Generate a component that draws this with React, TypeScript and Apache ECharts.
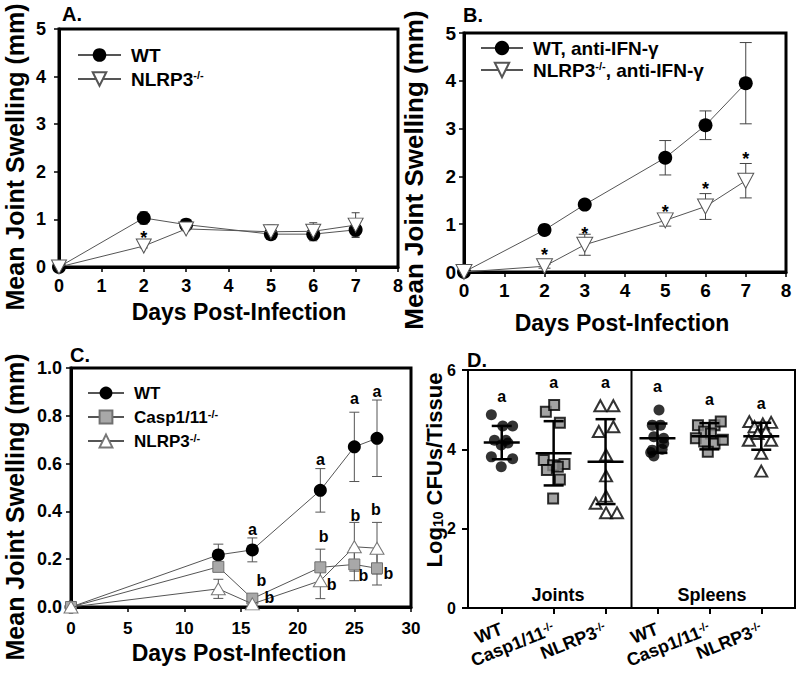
import React, { useEffect, useRef } from 'react';
import * as echarts from 'echarts';

const FONT = '"Liberation Sans", Arial, Helvetica, sans-serif';

// ---------- Panel A ----------
const daysAB = [0, 2, 3, 5, 6, 7];
const aWT = [0, 1.03, 0.89, 0.69, 0.69, 0.78];
const aWTsd = [0, 0.13, 0.04, 0.09, 0.14, 0.13];
const aNL = [0, 0.44, 0.8, 0.74, 0.75, 0.88];
const aNLsd = [0, 0.04, 0.04, 0.14, 0.18, 0.26];
const aStarX = [2];
const aStarY = [0.72];

// ---------- Panel B ----------
const bWT = [0, 0.88, 1.41, 2.39, 3.07, 3.95];
const bWTsd = [0, 0.04, 0.04, 0.36, 0.3, 0.85];
const bNL = [0, 0.12, 0.57, 1.08, 1.37, 1.91];
const bNLsd = [0, 0.04, 0.22, 0.12, 0.27, 0.36];
const bStarX = [2, 3, 5, 6, 7];
const bStarY = [0.45, 0.91, 1.36, 1.84, 2.47];

// ---------- Panel C ----------
const daysC = [0, 13, 16, 22, 25, 27];
const cWT = [0, 0.218, 0.239, 0.488, 0.67, 0.706];
const cWTsd = [0, 0.045, 0.05, 0.091, 0.145, 0.16];
const cCasp = [0, 0.168, 0.035, 0.166, 0.178, 0.162];
const cCaspSd = [0, 0.01, 0.01, 0.076, 0.068, 0.07];
const cNL = [0, 0.076, 0.013, 0.11, 0.252, 0.246];
const cNLsd = [0, 0.04, 0.01, 0.075, 0.102, 0.108];
const cLetterX = [16, 22, 25, 27, 16.8, 17.5, 22.3, 23.0, 25.1, 25.8, 26.9, 28.0];
const cLetterY = [0.326, 0.617, 0.871, 0.9, 0.109, 0.039, 0.295, 0.095, 0.382, 0.13, 0.407, 0.141];
const cLetters = ['a', 'a', 'a', 'a', 'b', 'b', 'b', 'b', 'b', 'b', 'b', 'b'];

// ---------- Panel D ----------
const dCategories = ['WT', 'Casp1/11', 'NLRP3', 'WT', 'Casp1/11', 'NLRP3'];
const dCategorySup = ['', '-/-', '-/-', '', '-/-', '-/-'];
const dWTJointsY = [4.87, 4.59, 4.59, 4.23, 4.23, 4.11, 4.16, 3.81, 3.76, 3.56];
const dWTJointsJitter = [-0.2, 0.02, 0.21, -0.14, 0.08, -0.01, 0.12, -0.2, 0.21, -0.01];
const dCaspJointsY = [4.95, 5.12, 4.67, 3.73, 3.6, 3.63, 3.48, 3.24, 2.76, 3.56];
const dCaspJointsJitter = [-0.15, 0.01, 0.12, -0.19, -0.01, 0.21, -0.13, 0.12, -0.01, 0.08];
const dNLJointsY = [5.1, 5.1, 4.45, 4.57, 3.86, 3.33, 2.82, 2.64, 2.4, 2.4];
const dNLJointsJitter = [-0.1, 0.15, -0.13, 0.15, 0.01, 0.01, 0.01, -0.19, 0.01, 0.22];
const dWTSpleenY = [4.99, 4.61, 4.61, 4.32, 4.28, 4.15, 3.98, 4.0, 3.83, 3.92];
const dWTSpleenJitter = [0.03, -0.1, 0.06, -0.07, 0.12, 0.12, -0.1, 0.09, -0.07, -0.13];
const dCaspSpleenY = [4.61, 4.61, 4.7, 4.45, 4.4, 4.28, 4.2, 4.15, 4.24, 3.94];
const dCaspSpleenJitter = [-0.22, 0.1, 0.22, -0.1, 0.03, -0.26, -0.1, 0.1, 0.26, -0.03];
const dNLSpleenY = [4.7, 4.68, 4.57, 4.64, 4.4, 4.23, 4.23, 3.9, 3.45, 4.45];
const dNLSpleenJitter = [-0.23, 0.19, -0.13, 0.03, -0.07, -0.24, 0.19, 0, 0, 0.09];
const dMean = [4.17, 3.9, 3.69, 4.28, 4.33, 4.33];
const dSD = [0.42, 0.81, 1.07, 0.37, 0.33, 0.34];
const dLetterY = [5.32, 5.68, 5.68, 5.58, 5.26, 5.16];
const dDividerX = 2.5;

const legendLabels: Record<string, string> = {
  aWT: 'WT',
  aNL: 'NLRP3{sup|-/-}',
  bWT: 'WT, anti-IFN-γ',
  bNL: 'NLRP3{sup|-/-}, anti-IFN-γ',
  cWT: 'WT',
  cCasp: 'Casp1/11{sup|-/-}',
  cNL: 'NLRP3{sup|-/-}',
};

const pts = (xs: number[], ys: number[]) => xs.map((x, i) => [x, ys[i]]);

function errorSeries(xs: number[], ys: number[], sds: number[], idx: number, color: string, cap: number) {
  return {
    type: 'custom',
    xAxisIndex: idx,
    yAxisIndex: idx,
    z: 1,
    silent: true,
    data: xs.map((x, i) => [x, ys[i], sds[i]]),
    renderItem: (params: any, api: any) => {
      const x = api.value(0);
      const y = api.value(1);
      const e = api.value(2);
      if (!e) return { type: 'group', children: [] };
      const t = api.coord([x, y + e]);
      const b = api.coord([x, y - e]);
      const mk = (x1: number, y1: number, x2: number, y2: number) => ({
        type: 'line',
        shape: { x1, y1, x2, y2 },
        style: { stroke: color, lineWidth: 1 },
      });
      return {
        type: 'group',
        children: [
          mk(t[0], t[1], b[0], b[1]),
          mk(t[0] - cap, t[1], t[0] + cap, t[1]),
          mk(b[0] - cap, b[1], b[0] + cap, b[1]),
        ],
      };
    },
  };
}

function textSeries(xs: number[], ys: number[], labels: string[], idx: number, fontSize: number, dy: number) {
  return {
    type: 'custom',
    xAxisIndex: idx,
    yAxisIndex: idx,
    z: 10,
    silent: true,
    data: xs.map((x, i) => [x, ys[i]]),
    renderItem: (params: any, api: any) => {
      const p = api.coord([api.value(0), api.value(1)]);
      return {
        type: 'text',
        x: p[0],
        y: p[1] + dy,
        style: {
          text: labels[params.dataIndex],
          fill: '#000',
          fontSize,
          fontWeight: 'bold',
          fontFamily: FONT,
          align: 'center',
          verticalAlign: 'middle',
        },
      };
    },
  };
}

function meanSdSeries(idx: number) {
  return {
    type: 'custom',
    xAxisIndex: idx,
    yAxisIndex: idx,
    z: 12,
    silent: true,
    data: dMean.map((m, i) => [i, m, dSD[i]]),
    renderItem: (params: any, api: any) => {
      const x = api.value(0);
      const m = api.value(1);
      const s = api.value(2);
      const pm = api.coord([x, m]);
      const pt = api.coord([x, m + s]);
      const pb = api.coord([x, m - s]);
      const mk = (x1: number, y1: number, x2: number, y2: number) => ({
        type: 'line',
        shape: { x1, y1, x2, y2 },
        style: { stroke: '#000', lineWidth: 2.5 },
      });
      return {
        type: 'group',
        children: [
          mk(pm[0] - 18, pm[1], pm[0] + 18, pm[1]),
          mk(pt[0], pt[1], pb[0], pb[1]),
          mk(pt[0] - 10, pt[1], pt[0] + 10, pt[1]),
          mk(pb[0] - 10, pb[1], pb[0] + 10, pb[1]),
        ],
      };
    },
  };
}

const tickLabel = (size: number, margin: number) => ({
  fontSize: size,
  fontWeight: 'bold',
  fontFamily: FONT,
  color: '#000',
  margin,
});

const thickAxis = (width: number) => ({
  axisLine: { show: true, onZero: false, lineStyle: { color: '#000', width } },
  axisTick: { show: true, inside: false, length: 5, lineStyle: { color: '#000', width: 1.5 } },
  splitLine: { show: false },
});

const legendText = (size: number, lineHeight: number) => ({
  fontSize: size,
  fontWeight: 'bold',
  fontFamily: FONT,
  color: '#000',
  lineHeight,
  padding: [0, 0, 0, 5],
  rich: {
    sup: { fontSize: 11, fontWeight: 'bold', fontFamily: FONT, color: '#000', verticalAlign: 'top', lineHeight: 11 },
  },
});

function titleText(text: string, x: number, y: number, size: number, rotate = false, extra: any = {}) {
  return {
    type: 'text',
    x,
    y,
    rotation: rotate ? Math.PI / 2 : 0,
    style: {
      text,
      fill: '#000',
      fontSize: size,
      fontWeight: 'bold',
      fontFamily: FONT,
      align: 'center',
      verticalAlign: 'middle',
      ...extra,
    },
  };
}

export default function App() {
  const ref = useRef<HTMLDivElement>(null);

  useEffect(() => {
    document.body.style.margin = '0';
    if (!ref.current) return;
    const chart = echarts.init(ref.current, undefined, { renderer: 'svg' });

    const lineGrey = { color: '#555', width: 1 };
    const circle = (size: number) => ({
      symbol: 'circle',
      symbolSize: size,
      itemStyle: { color: '#000', borderColor: '#000', borderWidth: 0 },
    });
    const triDown = {
      symbol: 'triangle',
      symbolRotate: 180,
      symbolSize: [15, 14],
      itemStyle: { color: '#fff', borderColor: '#555', borderWidth: 1 },
    };

    const option: any = {
      animation: false,
      grid: [
        { left: 59, top: 29, width: 339, height: 238, show: true, borderColor: '#000', borderWidth: 3 },
        { left: 464, top: 33, width: 322, height: 239, show: true, borderColor: '#000', borderWidth: 3 },
        { left: 71, top: 368, width: 340, height: 239, show: true, borderColor: '#000', borderWidth: 3 },
        { left: 468, top: 370, width: 327, height: 238, show: true, borderColor: '#000', borderWidth: 2 },
      ],
      xAxis: [
        { gridIndex: 0, type: 'value', min: 0, max: 8, interval: 1, ...thickAxis(3), axisLabel: tickLabel(18, 10) },
        { gridIndex: 1, type: 'value', min: 0, max: 8, interval: 1, ...thickAxis(3), axisLabel: tickLabel(19, 9) },
        { gridIndex: 2, type: 'value', min: 0, max: 30, interval: 5, ...thickAxis(3), axisLabel: tickLabel(17, 13) },
        {
          gridIndex: 3,
          type: 'value',
          min: -0.65,
          max: 5.65,
          axisLine: { show: true, onZero: false, lineStyle: { color: '#000', width: 2 } },
          axisTick: { show: true, length: 6, customValues: [0, 1, 2, 3, 4, 5], lineStyle: { color: '#000', width: 2 } },
          splitLine: { show: false },
          axisLabel: {
            customValues: [0, 1, 2, 3, 4, 5],
            rotate: 22,
            margin: 20,
            fontSize: 18,
            fontWeight: 'bold',
            fontFamily: FONT,
            color: '#000',
            formatter: (v: number) => {
              const i = Math.round(v);
              return dCategorySup[i] ? `${dCategories[i]}{sup|${dCategorySup[i]}}` : dCategories[i];
            },
            rich: {
              sup: { fontSize: 11, fontWeight: 'bold', fontFamily: FONT, color: '#000', verticalAlign: 'top' },
            },
          },
        },
      ],
      yAxis: [
        { gridIndex: 0, type: 'value', min: 0, max: 5, interval: 1, ...thickAxis(3), axisLabel: tickLabel(18, 13) },
        { gridIndex: 1, type: 'value', min: 0, max: 5, interval: 1, ...thickAxis(3), axisLabel: tickLabel(19, 8) },
        {
          gridIndex: 2,
          type: 'value',
          min: 0,
          max: 1,
          interval: 0.2,
          ...thickAxis(3),
          axisLabel: { ...tickLabel(18, 9), formatter: (v: number) => v.toFixed(1) },
        },
        {
          gridIndex: 3,
          type: 'value',
          min: 0,
          max: 6,
          interval: 2,
          axisLine: { show: true, onZero: false, lineStyle: { color: '#000', width: 2 } },
          axisTick: { show: true, length: 6, lineStyle: { color: '#000', width: 2 } },
          splitLine: { show: false },
          axisLabel: tickLabel(16, 12),
        },
      ],
      legend: [
        {
          orient: 'vertical', left: 72, top: 40, itemWidth: 43, itemHeight: 17, itemGap: 4,
          selectedMode: false, data: ['aWT', 'aNL'], formatter: (n: string) => legendLabels[n], textStyle: legendText(19, 20),
        },
        {
          orient: 'vertical', left: 475, top: 33, itemWidth: 42, itemHeight: 18, itemGap: 2,
          selectedMode: false, data: ['bWT', 'bNL'], formatter: (n: string) => legendLabels[n], textStyle: legendText(19, 20),
        },
        {
          orient: 'vertical', left: 82, top: 379, itemWidth: 36, itemHeight: 16, itemGap: 6,
          selectedMode: false, data: ['cWT', 'cCasp', 'cNL'], formatter: (n: string) => legendLabels[n], textStyle: legendText(17, 18),
        },
      ],
      series: [
        // Panel A
        errorSeries(daysAB, aWT, aWTsd, 0, '#444', 4),
        errorSeries(daysAB, aNL, aNLsd, 0, '#444', 4),
        { type: 'line', name: 'aWT', xAxisIndex: 0, yAxisIndex: 0, z: 3, data: pts(daysAB, aWT), lineStyle: lineGrey, ...circle(14) },
        { type: 'line', name: 'aNL', xAxisIndex: 0, yAxisIndex: 0, z: 4, data: pts(daysAB, aNL), lineStyle: lineGrey, ...triDown },
        textSeries(aStarX, aStarY, ['*'], 0, 18, 5),
        // Panel B
        errorSeries(daysAB, bWT, bWTsd, 1, '#444', 6),
        errorSeries(daysAB, bNL, bNLsd, 1, '#444', 6),
        { type: 'line', name: 'bWT', xAxisIndex: 1, yAxisIndex: 1, z: 3, data: pts(daysAB, bWT), lineStyle: lineGrey, ...circle(14) },
        { type: 'line', name: 'bNL', xAxisIndex: 1, yAxisIndex: 1, z: 4, data: pts(daysAB, bNL), lineStyle: lineGrey, ...triDown, symbolSize: [16, 15] },
        textSeries(bStarX, bStarY, bStarX.map(() => '*'), 1, 18, 5),
        // Panel C
        errorSeries(daysC, cWT, cWTsd, 2, '#555', 5),
        errorSeries(daysC, cCasp, cCaspSd, 2, '#555', 5),
        errorSeries(daysC, cNL, cNLsd, 2, '#555', 5),
        { type: 'line', name: 'cWT', xAxisIndex: 2, yAxisIndex: 2, z: 3, data: pts(daysC, cWT), lineStyle: lineGrey, ...circle(13) },
        {
          type: 'line', name: 'cCasp', xAxisIndex: 2, yAxisIndex: 2, z: 4, data: pts(daysC, cCasp), lineStyle: lineGrey,
          symbol: 'rect', symbolSize: 11, itemStyle: { color: '#a8a8a8', borderColor: '#707070', borderWidth: 1 },
        },
        {
          type: 'line', name: 'cNL', xAxisIndex: 2, yAxisIndex: 2, z: 5, data: pts(daysC, cNL), lineStyle: lineGrey,
          symbol: 'triangle', symbolSize: [14, 12], itemStyle: { color: '#fff', borderColor: '#777', borderWidth: 1 },
        },
        textSeries(cLetterX, cLetterY, cLetters, 2, 16, 0),
        // Panel D
        {
          type: 'line', xAxisIndex: 3, yAxisIndex: 3, z: 2, silent: true, symbol: 'none',
          data: [[dDividerX, 0], [dDividerX, 6]], lineStyle: { color: '#000', width: 2 },
        },
        {
          type: 'scatter', xAxisIndex: 3, yAxisIndex: 3, z: 5, symbol: 'circle', symbolSize: 11,
          itemStyle: { color: '#000' },
          data: [
            ...dWTJointsY.map((y, i) => [0 + dWTJointsJitter[i], y]),
            ...dWTSpleenY.map((y, i) => [3 + dWTSpleenJitter[i], y]),
          ],
        },
        {
          type: 'scatter', xAxisIndex: 3, yAxisIndex: 3, z: 5, symbol: 'rect', symbolSize: 10,
          itemStyle: { color: '#8c8c8c', borderColor: '#000', borderWidth: 2 },
          data: [
            ...dCaspJointsY.map((y, i) => [1 + dCaspJointsJitter[i], y]),
            ...dCaspSpleenY.map((y, i) => [4 + dCaspSpleenJitter[i], y]),
          ],
        },
        {
          type: 'scatter', xAxisIndex: 3, yAxisIndex: 3, z: 5, symbol: 'triangle', symbolSize: [12, 11],
          itemStyle: { color: '#fff', borderColor: '#000', borderWidth: 2 },
          data: [
            ...dNLJointsY.map((y, i) => [2 + dNLJointsJitter[i], y]),
            ...dNLSpleenY.map((y, i) => [5 + dNLSpleenJitter[i], y]),
          ],
        },
        meanSdSeries(3),
        textSeries([0, 1, 2, 3, 4, 5], dLetterY, ['a', 'a', 'a', 'a', 'a', 'a'], 3, 16, 0),
      ],
      graphic: [
        titleText('A.', 72, 14, 20),
        titleText('B.', 473, 15, 20),
        titleText('C.', 80, 355, 20),
        titleText('D.', 477, 360, 20),
        titleText('Mean Joint Swelling (mm)', 15, 157, 25, true),
        titleText('Days Post-Infection', 239, 312, 23),
        titleText('Mean Joint Swelling (mm)', 414, 170, 26, true),
        titleText('Days Post-Infection', 622, 323, 23),
        titleText('Mean Joint Swelling (mm)', 15, 507, 25, true),
        titleText('Days Post-Infection', 239, 653, 23),
        titleText('Log{sub|10} CFUs/Tissue', 434, 470, 22, true, {
          rich: { sub: { fontSize: 14, fontWeight: 'bold', fontFamily: FONT, fill: '#000', verticalAlign: 'bottom' } },
        }),
        titleText('Joints', 558, 595, 18),
        titleText('Spleens', 712, 595, 18),
      ],
    };

    chart.setOption(option);
    return () => chart.dispose();
  }, []);

  return <div ref={ref} style={{ width: 800, height: 676 }} />;
}
